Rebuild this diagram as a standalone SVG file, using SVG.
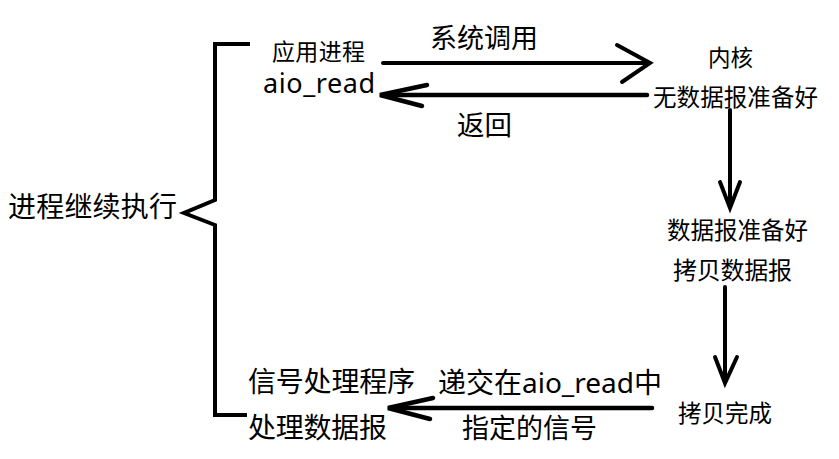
<svg xmlns="http://www.w3.org/2000/svg" width="839" height="459" viewBox="0 0 839 459">
<style>
text { font-family: "Noto Sans", "Noto Sans CJK SC", sans-serif; fill: #000; }
.c { fill: none; stroke: #000; stroke-width: 4; stroke-linecap: round; stroke-linejoin: miter; }
.h { fill: none; stroke: #000; stroke-width: 4.5; stroke-linecap: round; stroke-linejoin: miter; }
</style>
<rect width="839" height="459" fill="#fff"/>
<g id="bracket">
  <path class="c" style="stroke-linecap:butt" d="M250,44 H215 V200 L184,213 L215,225 V415 H247"/>
</g>
<g id="continue">
  <text x="8" y="217" font-size="28" textLength="169">进程继续执行</text>
</g>
<g id="app">
  <text x="272" y="60" font-size="23" textLength="93">应用进程</text>
  <text x="263" y="93" font-size="27" textLength="112">aio_read</text>
</g>
<g id="kernel">
  <text x="708" y="66" font-size="22.5" textLength="45">内核</text>
  <text x="653" y="106" font-size="23.5" textLength="165">无数据报准备好</text>
</g>
<g id="ready">
  <text x="667" y="239" font-size="23.5" textLength="141">数据报准备好</text>
  <text x="673" y="279" font-size="24" textLength="119">拷贝数据报</text>
</g>
<g id="done">
  <text x="678" y="422" font-size="23.5" textLength="94">拷贝完成</text>
</g>
<g id="handler">
  <text x="248" y="392" font-size="28" textLength="167">信号处理程序</text>
  <text x="248" y="438" font-size="28" textLength="139">处理数据报</text>
</g>
<g id="connectors">
  <path class="c" d="M383,63 H648"/>
  <path class="c" d="M617,45 L650,63 L622,82"/>
  <path class="h" d="M647,95 H382"/>
  <path class="h" d="M427,85 L380,95 L422,106"/>
  <path class="c" d="M730,110 V206"/>
  <path class="c" d="M720,182 L730,208 L740,182"/>
  <path class="c" d="M725,287 V381"/>
  <path class="c" d="M715,357 L725,383 L737,357"/>
  <path class="h" d="M652,408 H390"/>
  <path class="h" d="M433,398 L388,408 L430,419"/>
</g>
<g id="labels">
  <text x="430" y="48" font-size="27" textLength="108">系统调用</text>
  <text x="457" y="135" font-size="27.5" textLength="55">返回</text>
  <text x="438" y="393" font-size="28" textLength="224">递交在aio_read中</text>
  <text x="462" y="438" font-size="27" textLength="135">指定的信号</text>
</g>
</svg>
